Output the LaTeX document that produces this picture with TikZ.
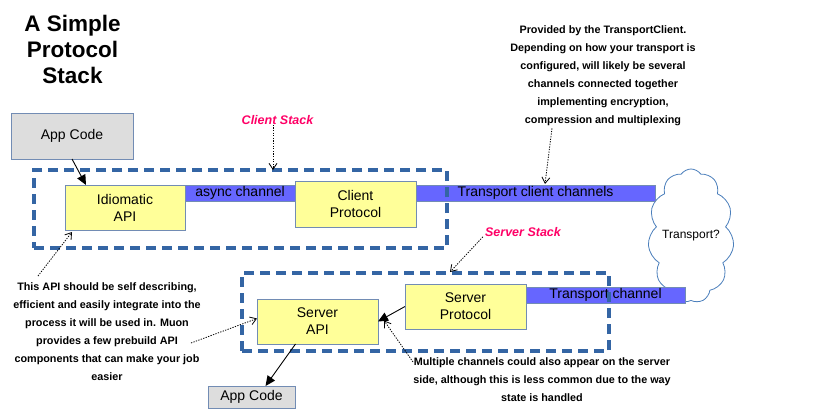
\documentclass[tikz,border=0pt]{standalone}
\usepackage{fontspec}
\setmainfont{Liberation Sans}
\usetikzlibrary{arrows.meta,shapes.symbols}
\definecolor{boxline}{RGB}{114,140,180}
\definecolor{yel}{RGB}{255,255,153}
\definecolor{gr}{RGB}{221,221,221}
\definecolor{barfill}{RGB}{102,102,255}
\definecolor{stackcol}{RGB}{52,101,164}
\definecolor{cloudcol}{RGB}{74,126,187}
\definecolor{pinklab}{RGB}{255,0,102}
\tikzset{
  ybox/.style={draw=boxline, fill=yel, line width=1pt, inner sep=0pt, outer sep=0pt, align=center, font=\fontsize{14}{17}\selectfont},
  gbox/.style={ybox, fill=gr},
  bar/.style={draw=boxline, fill=barfill, line width=1pt, inner sep=0pt, outer sep=0pt, minimum height=16pt, font=\fontsize{14}{17}\selectfont},
  stackbox/.style={draw=stackcol, line width=3.5pt, dash pattern=on 10pt off 6pt, inner sep=0pt, outer sep=0pt},
  notetext/.style={align=center, font=\bfseries\fontsize{10.8}{18}\selectfont, inner sep=0pt},
  stacklabel/.style={font=\bfseries\itshape\fontsize{12.5}{15}\selectfont, text=pinklab, inner sep=0pt},
  notearrow/.style={line width=0.8pt, dash pattern=on 1.3pt off 1.3pt, -{Straight Barb[length=6pt,width=8pt]}},
  solidarrow/.style={line width=0.9pt, -{Triangle[length=10pt,width=9pt]}},
}
\begin{document}
\begin{tikzpicture}[x=1pt,y=-1pt]
\useasboundingbox (0,0) rectangle (831,416);
% title
\node[align=center, font=\bfseries\fontsize{22.5}{26}\selectfont, inner sep=0pt] (title) at (72.5,49) {A Simple\\Protocol\\Stack};
% cloud
\node[cloud, cloud puffs=11, cloud puff arc=110, cloud ignores aspect, draw=cloudcol, line width=0.8pt, minimum width=86pt, minimum height=134pt, inner sep=0pt, font=\fontsize{12}{14}\selectfont] (cloud) at (691,236) {Transport?};
% boxes
\node[gbox, minimum width=122pt, minimum height=46pt] (app) at (72,136) {App Code};
\node[bar, minimum width=110pt] (async) at (240,193) {async channel};
\node[bar, minimum width=239pt] (tcc) at (535.5,193) {Transport client channels};
\node[ybox, minimum width=120pt, minimum height=45pt] (idiom) at (125,207.5) {Idiomatic\\API};
\node[ybox, minimum width=121pt, minimum height=46pt] (cproto) at (355.5,204) {Client\\Protocol};
\node[bar, minimum width=159pt] (tc) at (605.5,295) {Transport channel};
\node[ybox, minimum width=121pt, minimum height=45pt] (sapi) at (317.5,321.5) {Server\\API};
\node[ybox, minimum width=121pt, minimum height=45pt] (sproto) at (465.5,306.5) {Server\\Protocol};
\node[gbox, minimum width=87pt, minimum height=22pt] (app2) at (251.5,397) {App Code};
% stacks
\node[stackbox, minimum width=413pt, minimum height=78pt] (cstack) at (240.5,209) {};
\node[stackbox, minimum width=367pt, minimum height=78pt] (sstack) at (425.5,312) {};
% labels
\node[stacklabel] (clabel) at (277.5,120) {Client Stack};
\node[stacklabel] (slabel) at (523,232) {Server Stack};
\node[notetext] (tnote) at (603,76) {Provided by the TransportClient.\\Depending on how your transport is\\configured, will likely be several\\channels connected together\\implementing encryption,\\compression and multiplexing};
\node[notetext] (lnote) at (107,331.5) {This API should be self describing,\\efficient and easily integrate into the\\process it will be used in. Muon\\provides a few prebuild API\\components that can make your job\\easier};
\node[notetext] (mnote) at (542,380) {Multiple channels could also appear on the server\\side, although this is less common due to the way\\state is handled};
% coordinates
\coordinate (ctip) at (273,170);
\coordinate (stip) at (450,272);
\coordinate (ttip) at (545,184);
\coordinate (lstart1) at (38,276);
\coordinate (lstart2) at (191,343);
\coordinate (mstart) at (413,362);
% solid arrows
\draw[solidarrow] (app.south) -- ([xshift=21pt]idiom.north west);
\draw[solidarrow] ([xshift=-22pt]sapi.south) -- ([xshift=14pt]app2.north);
\draw[solidarrow] (sproto.west) -- (sapi.east);
% note arrows
\draw[notearrow] (clabel.south -| ctip) -- (ctip);
\draw[notearrow] ([xshift=-2pt]slabel.south west) -- (stip);
\draw[notearrow] ([xshift=-51pt,yshift=-2pt]tnote.south) -- (ttip);
\draw[notearrow] (lstart1) -- ([xshift=7pt,yshift=-2pt]idiom.south west);
\draw[notearrow] (lstart2) -- ([yshift=3pt]sapi.west);
\draw[notearrow] (mstart) -- ([xshift=6pt,yshift=1pt]sapi.east);
\end{tikzpicture}
\end{document}
